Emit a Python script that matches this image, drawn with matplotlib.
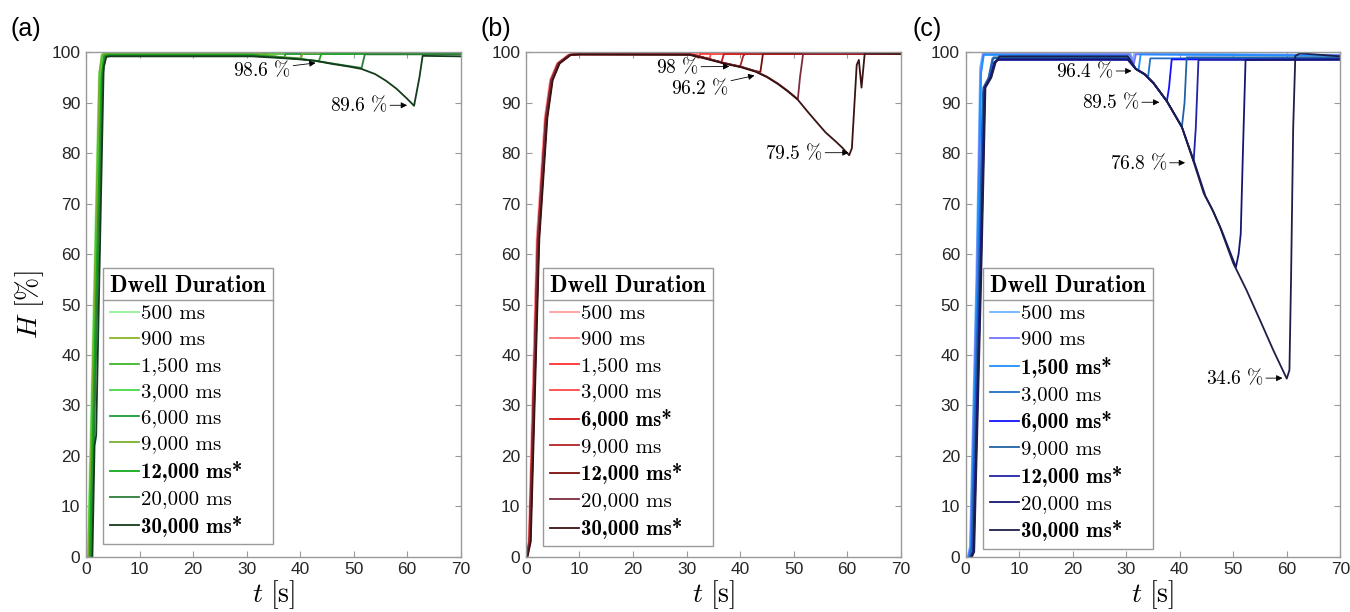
import matplotlib
matplotlib.use("Agg")
import matplotlib.pyplot as plt
from matplotlib.lines import Line2D

plt.rcParams['font.family'] = ['Liberation Sans', 'DejaVu Sans']
plt.rcParams['mathtext.fontset'] = 'cm'

# legend labels
durations = ["500 ms", "900 ms", "1,500 ms", "3,000 ms", "6,000 ms",
             "9,000 ms", "12,000 ms", "20,000 ms", "30,000 ms"]
bold_a = [6, 8]
bold_b = [4, 6, 8]
bold_c = [2, 4, 6, 8]

green = ["#92F592", "#8AB622", "#40B52C", "#46DA46", "#1B9A3A",
         "#78B02E", "#12A81A", "#2E7D3A", "#133D1A"]
red = ["#FF9E9E", "#FF7272", "#FF2E2E", "#FF4848", "#D01414",
       "#B02424", "#7A0C0C", "#7C2C3C", "#3A1212"]
blue = ["#6CB6FF", "#7272FF", "#1E90FF", "#2070C2", "#1212FF",
        "#2262A2", "#2222A8", "#161672", "#1E1E4A"]

# panel (a): time [s] and H [%] of each curve
a_t = [
    [0.3, 2.4, 2.9, 3.6, 31.0, 31.4, 31.7, 70],
    [0.5, 2.6, 3.1, 3.8, 31.0, 31.8, 32.1, 70],
    [0.6, 2.8, 3.3, 4.0, 31.0, 32.4, 32.7, 70],
    [0.4, 2.7, 3.2, 3.9, 31.0, 34.0, 34.3, 70],
    [0.8, 3.0, 3.5, 4.2, 31.0, 36.0, 37.0, 37.3, 70],
    [0.5, 2.5, 3.0, 3.7, 31.0, 36.0, 40.2, 40.5, 70],
    [0.7, 2.9, 3.4, 4.1, 31.0, 36.0, 40.0, 43.5, 44.0, 70],
    [1.0, 3.1, 3.6, 4.3, 31.0, 36.0, 40.0, 43.0, 46.0, 49.0, 51.5, 52.1, 70],
    [1.2, 1.6, 1.9, 3.3, 3.8, 4.5, 31.0, 36.0, 40.0, 43.0, 46.0, 49.0, 51.5,
     54.0, 56.0, 58.0, 60.0, 61.3, 62.3, 62.9, 70],
]
a_h = [
    [0, 95, 99.5, 99.9, 99.9, 99.4, 99.9, 99.9],
    [0, 95, 99.5, 99.8, 99.8, 99.3, 99.8, 99.8],
    [0, 95, 99.4, 99.7, 99.7, 99.2, 99.7, 99.7],
    [0, 96, 99.6, 99.9, 99.9, 99.2, 99.9, 99.9],
    [0, 95, 99.3, 99.6, 99.6, 99.1, 98.9, 99.7, 99.7],
    [0, 96, 99.5, 99.9, 99.9, 99.1, 98.8, 99.9, 99.9],
    [0, 95, 99.3, 99.5, 99.5, 99.0, 98.7, 98.2, 99.8, 99.8],
    [0, 95, 99.2, 99.3, 99.3, 99.0, 98.7, 98.3, 97.8, 97.3, 96.9, 99.6, 99.6],
    [0, 22, 24, 97, 99.1, 99.2, 99.2, 98.9, 98.6, 98.3, 97.7, 97.2, 96.7,
     95.7, 94.4, 92.8, 90.8, 89.4, 95.0, 99.3, 99.2],
]

# panel (b)
b_t = [
    [0.0, 0.5, 2.0, 3.5, 4.5, 5.8, 7.9, 10, 31.0, 31.3, 31.6, 70],
    [0.1, 0.6, 2.1, 3.6, 4.6, 5.9, 8.0, 10, 31.0, 31.7, 32.0, 70],
    [0.0, 0.7, 2.3, 3.8, 4.8, 6.1, 8.2, 10, 31.0, 32.3, 32.6, 70],
    [0.2, 0.8, 2.4, 3.9, 4.9, 6.2, 8.3, 10, 31.0, 33.0, 34.3, 34.6, 70],
    [0.1, 0.7, 2.2, 3.7, 4.7, 6.0, 8.1, 10, 30.5, 33.0, 36.5, 37.0, 70],
    [0.2, 0.6, 2.3, 3.8, 4.8, 6.1, 8.2, 10, 30.5, 33.0, 37.3, 40.0, 40.6, 41.0, 70],
    [0.1, 0.8, 2.4, 3.9, 4.9, 6.2, 8.3, 10, 30.5, 33.0, 37.3, 40.0, 42.8, 43.8,
     44.3, 70],
    [0.2, 0.7, 2.2, 3.7, 4.7, 6.0, 8.1, 10, 30.5, 33.0, 37.3, 40.0, 42.8, 45.0,
     47.1, 49.0, 50.8, 51.2, 51.8, 70],
    [0.3, 0.9, 2.5, 4.0, 5.0, 6.3, 8.4, 10, 30.5, 33.0, 37.3, 40.0, 42.8, 45.0,
     47.1, 49.0, 50.8, 52.5, 54.6, 56.0, 57.7, 59.0, 60.4, 60.9, 61.8, 62.2,
     62.7, 63.3, 70],
]
b_h = [
    [0, 3, 63, 87, 94.5, 97.8, 99.5, 99.8, 99.8, 99.3, 99.8, 99.8],
    [0, 3, 63, 87, 94.5, 97.8, 99.5, 99.8, 99.8, 99.1, 99.8, 99.8],
    [0, 3, 63, 87, 94.5, 97.8, 99.5, 99.7, 99.7, 98.9, 99.7, 99.7],
    [0, 3, 63, 87, 94.5, 97.8, 99.5, 99.7, 99.7, 99.0, 98.8, 99.8, 99.8],
    [0, 3, 63, 87, 94.5, 97.8, 99.5, 99.6, 99.6, 99.0, 98.0, 99.7, 99.7],
    [0, 3, 63, 87, 94.5, 97.8, 99.5, 99.6, 99.6, 99.0, 97.8, 97.1, 99.3, 99.7, 99.7],
    [0, 3, 63, 87, 94.5, 97.8, 99.5, 99.6, 99.6, 99.0, 97.8, 97.2, 96.3, 96.1,
     99.8, 99.8],
    [0, 3, 63, 87, 94.5, 97.8, 99.5, 99.6, 99.6, 99.0, 97.8, 97.2, 96.3, 95.2,
     93.8, 92.3, 90.7, 95.0, 99.8, 99.8],
    [0, 3, 63, 87, 94.5, 97.8, 99.5, 99.6, 99.5, 98.9, 97.7, 97.1, 96.2, 95.1,
     93.7, 92.2, 90.6, 88.4, 85.8, 84.1, 82.5, 81.2, 79.6, 81.0, 97.5, 98.5,
     93.0, 99.8, 99.7],
]

# panel (c)
c_t = [
    [0.4, 0.8, 2.0, 2.7, 3.2, 30.8, 31.2, 31.5, 70],
    [0.5, 0.9, 2.1, 2.8, 3.3, 30.6, 31.4, 31.8, 70],
    [0.6, 1.0, 2.2, 2.9, 3.4, 30.3, 31.8, 32.3, 32.7, 70],
    [0.7, 1.1, 2.4, 3.2, 4.2, 5.0, 30.3, 31.8, 33.4, 34.1, 34.5, 70],
    [0.9, 1.3, 2.6, 3.4, 4.5, 5.3, 6.0, 30.3, 31.8, 33.4, 35.1, 37.6, 38.0,
     38.5, 70],
    [0.8, 1.2, 2.5, 3.3, 4.3, 5.2, 30.3, 31.8, 33.4, 35.1, 37.6, 40.4, 40.9,
     41.3, 70],
    [1.0, 1.4, 2.7, 3.5, 4.6, 5.4, 6.1, 30.3, 31.8, 33.4, 35.1, 37.6, 40.4,
     42.6, 43.0, 43.5, 70],
    [1.1, 1.5, 2.8, 3.6, 4.7, 5.5, 6.2, 30.3, 31.8, 33.4, 35.1, 37.6, 40.4,
     42.8, 44.8, 46.3, 47.8, 50.5, 51.0, 51.4, 51.8, 52.3, 70],
    [1.2, 1.6, 2.9, 3.7, 4.8, 5.6, 6.3, 30.3, 31.8, 33.4, 35.1, 37.6, 40.4,
     42.5, 44.5, 46.0, 47.5, 50.0, 52.5, 55.0, 57.5, 60.0, 60.5, 60.8, 61.2,
     61.6, 62.5, 70],
]
c_h = [
    [0, 2, 56, 97, 99.8, 99.8, 98.3, 99.8, 99.5],
    [0, 2, 55, 96, 99.6, 99.6, 97.6, 99.6, 99.4],
    [0, 2, 55, 96, 99.5, 99.3, 96.7, 96.4, 99.6, 99.3],
    [0, 2, 55, 92, 94.5, 98.8, 98.8, 96.7, 95.6, 95.2, 98.8, 98.8],
    [0, 1, 55, 93, 95.0, 98.0, 98.6, 98.6, 96.7, 95.7, 93.9, 90.3, 93.0,
     98.6, 98.6],
    [0, 1, 55, 93, 95.0, 99.0, 99.0, 96.7, 95.7, 93.9, 90.3, 85.2, 90.0,
     99.0, 99.0],
    [0, 1, 55, 93, 95.0, 98.0, 98.5, 98.5, 96.7, 95.7, 93.9, 90.3, 85.2,
     78.4, 85.0, 98.5, 98.5],
    [0, 1, 55, 93, 95.0, 98.0, 98.6, 98.6, 96.7, 95.7, 93.9, 90.3, 85.2,
     78.0, 71.5, 68.4, 64.8, 57.4, 60.0, 64.0, 80.0, 98.5, 98.6],
    [0, 1, 55, 93, 95.0, 98.0, 99.2, 99.2, 96.7, 95.7, 93.9, 90.3, 85.2,
     78.6, 72.0, 69.0, 65.4, 58.2, 52.8, 46.9, 40.9, 35.3, 37.0, 55.0, 85.0,
     99.3, 99.8, 99.2],
]

# annotations: text, arrow tip (t, H), text anchor (t, H)
notes_a = [("98.6", (42.9, 97.9), (38.2, 96.6)),
           ("89.6", (60.0, 89.5), (56.3, 89.5))]
notes_b = [("98", (38.0, 97.2), (32.2, 97.1)),
           ("96.2", (42.7, 95.4), (37.8, 93.0)),
           ("79.5", (60.3, 80.1), (55.4, 80.1))]
notes_c = [("96.4", (31.0, 96.3), (27.6, 96.3)),
           ("89.5", (36.2, 90.1), (32.4, 90.1)),
           ("76.8", (41.0, 78.1), (37.6, 78.1)),
           ("34.6", (59.2, 35.4), (55.6, 35.4))]

fig = plt.figure(figsize=(13.5, 6.12), dpi=100)
lefts = [0.0637, 0.3896, 0.7153]
panels = [(a_t, a_h, green, bold_a, notes_a, "(a)"),
          (b_t, b_h, red, bold_b, notes_b, "(b)"),
          (c_t, c_h, blue, bold_c, notes_c, "(c)")]
label_x = [0.008, 0.356, 0.676]
gray = "#9A9A9A"
legends = []

for k, (ts, hs, cols, bold, notes, tag) in enumerate(panels):
    ax = fig.add_axes([lefts[k], 0.0904, 0.2775, 0.8241])
    for i in range(9):
        ax.plot(ts[i], hs[i], color=cols[i], lw=1.3, label=durations[i])
    ax.set_xlim(0, 70)
    ax.set_ylim(0, 100)
    ax.set_xticks(range(0, 71, 10))
    ax.set_yticks(range(0, 101, 10))
    ax.tick_params(direction="in", top=True, right=True, length=4,
                   color=gray, labelcolor="#262626", labelsize=12.5, pad=4)
    for sp in ax.spines.values():
        sp.set_color(gray)
        sp.set_linewidth(1.0)
    ax.set_xlabel(r"$t\ [\mathrm{s}]$", fontsize=20, labelpad=1)
    if k == 0:
        ax.set_ylabel(r"$H\ [\%]$", fontsize=20, labelpad=4)

    for txt, tip, anchor in notes:
        ax.annotate(r"$\mathbf{" + txt + r"}\ \%$", xy=tip, xytext=anchor,
                    ha="right", va="center", fontsize=14,
                    arrowprops=dict(arrowstyle="-|>", color="black", lw=0.6,
                                    mutation_scale=9, shrinkA=0, shrinkB=0))

    leg = ax.legend(loc="upper left", bbox_to_anchor=(0.045, 0.573),
                    borderaxespad=0, title="Dwell Duration", fancybox=False,
                    edgecolor=gray, framealpha=1, handlelength=1.4,
                    handletextpad=0.1, labelspacing=0.36, borderpad=0.35,
                    alignment="left", prop={"family": "cmr10", "size": 15})
    leg.get_frame().set_linewidth(1.0)
    leg.get_title().set_fontfamily("cmb10")
    leg.get_title().set_fontsize(16.5)
    for i, t in enumerate(leg.get_texts()):
        if i in bold:
            t.set_text(durations[i] + "*")
            t.set_fontfamily("cmb10")
    legends.append(leg)

    fig.text(label_x[k], 0.953, tag, fontsize=18, va="center", ha="left")

# line under the legend title
fig.canvas.draw()
r = fig.canvas.get_renderer()
inv = fig.transFigure.inverted()
for leg in legends:
    fb = leg.get_frame().get_window_extent(r)
    tb = leg.get_title().get_window_extent(r)
    y = tb.y0 - 3
    (x0, y0), (x1, _) = inv.transform([(fb.x0, y), (fb.x1, y)])
    fig.add_artist(Line2D([x0, x1], [y0, y0], transform=fig.transFigure,
                          color=gray, lw=1.0, zorder=10))

fig.savefig("out.png", dpi=100)
